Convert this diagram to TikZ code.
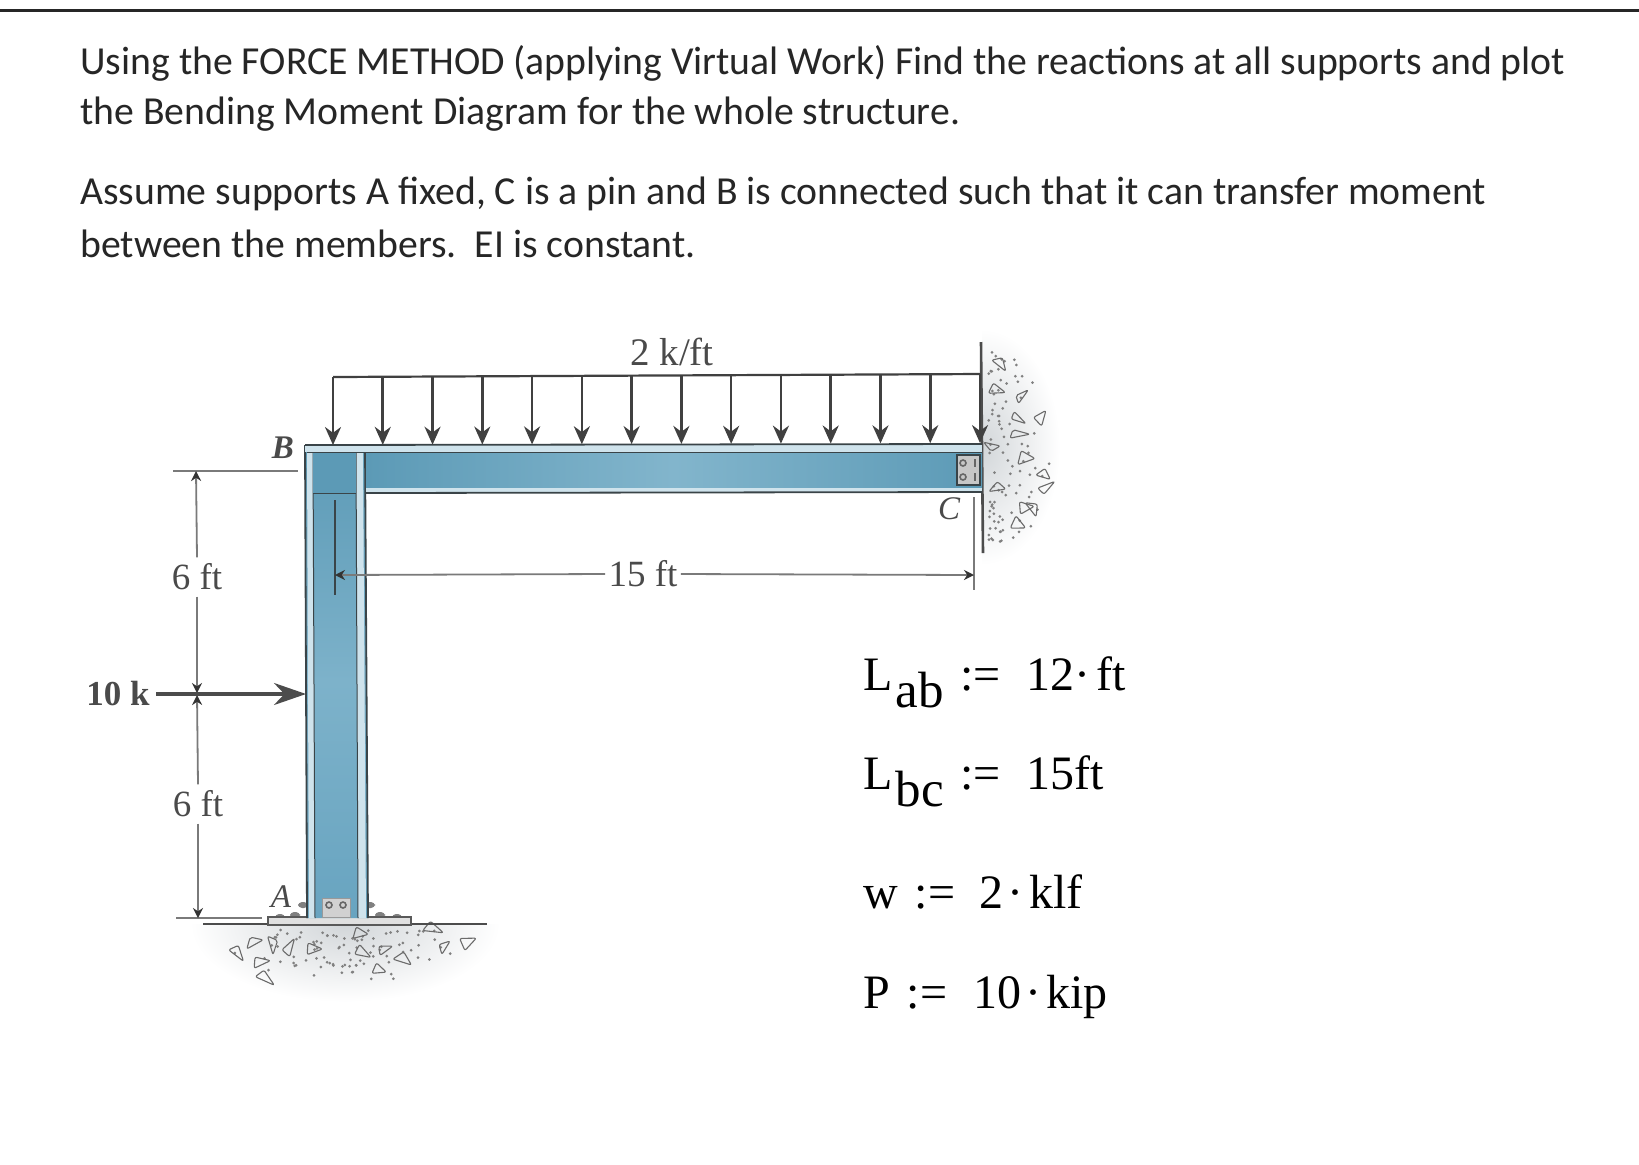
\documentclass[tikz,border=0pt]{standalone}
\usepackage{fontspec}
\setmainfont{Carlito}
\newfontfamily\figfont{Liberation Serif}
\usetikzlibrary{arrows.meta}

\definecolor{webdark}{HTML}{5C9AB6}
\definecolor{webmid}{HTML}{7DB2CA}
\definecolor{webbase}{HTML}{68A4C0}
\definecolor{weblight}{HTML}{82B5CC}
\definecolor{flange}{HTML}{CFE3EC}
\definecolor{steel}{HTML}{3A4448}
\definecolor{dimgrey}{HTML}{7A7A7A}
\definecolor{concrete}{HTML}{D2D6D9}
\definecolor{labelgrey}{HTML}{4A4A4A}

\tikzset{
	bodytext/.style={anchor=base west, inner sep=0pt, text=black!85, font=\fontsize{19.85}{24}\selectfont},
	formula/.style={anchor=base west, inner sep=0pt, font=\figfont\fontsize{24}{28}\selectfont},
	dimlabel/.style={inner sep=1.5pt, text=labelgrey, font=\figfont\fontsize{18.5}{22}\selectfont},
	pointlabel/.style={inner sep=0pt, text=labelgrey, font=\figfont\itshape\fontsize{16.5}{20}\selectfont},
	dimline/.style={draw=dimgrey, line width=0.9pt},
	dimarrow/.style={dimline, -{Stealth[length=5pt,width=5pt,color=black!80]}},
	loadline/.style={draw=black!75, line width=1.1pt},
	loadarrow/.style={draw=black!75, line width=1.3pt, -{Stealth[length=9pt,width=8pt]}},
	forcearrow/.style={draw=black!70, line width=1.6pt, -{Stealth[length=16pt,width=11pt]}},
	steelline/.style={draw=steel, line width=0.9pt},
	rockline/.style={draw=black!58, line width=0.55pt, line join=round}
}

\begin{document}
\begin{tikzpicture}[x=0.5pt, y=-0.5pt]

	\useasboundingbox (0, 0) rectangle (1639, 1164);
	\fill[white] (0, 0) rectangle (1639, 1164);

	\coordinate (ruleleft) at (0, 10);
	\coordinate (ruleright) at (1639, 10);
	\draw[line width=1.5pt, black!85] (ruleleft) -- (ruleright);

	% texte
	\node[bodytext] (lineone) at (80, 74) {Using the FORCE METHOD (applying Virtual Work) Find the reactions at all supports and plot};
	\node[bodytext] (linetwo) at (80, 124) {the Bending Moment Diagram for the whole structure.};
	\node[bodytext] (linethree) at (80, 204) {Assume supports A fixed, C is a pin and B is connected such that it can transfer moment};
	\node[bodytext] (linefour) at (80, 257) {between the members.\ \ EI is constant.};

	% beton
	\begin{scope}
		\clip (150, 924) rectangle (540, 1010);
		\shade[inner color=concrete, outer color=white] (345, 924) ellipse (155 and 78);
	\end{scope}
	\begin{scope}
		\clip (982, 330) rectangle (1070, 570);
		\shade[inner color=concrete, outer color=white] (982, 447) ellipse (78 and 118);
	\end{scope}

	\pgfmathsetseed{41}
	\foreach \i in {1, ..., 90} {
		\pgfmathsetmacro{\ang}{rnd*180}
		\pgfmathsetmacro{\rad}{0.12+0.8*rnd}
		\fill[black!50] ({345+135*\rad*cos(\ang)}, {930+58*\rad*sin(\ang)}) circle (1.5);
		\pgfmathsetmacro{\xpos}{988+62*rnd*rnd+4*rnd}
		\pgfmathsetmacro{\ypos}{447+95*(2*rnd-1)}
		\fill[black!50] (\xpos, \ypos) circle (1.5);
	}

	\foreach \x/\y/\r in {358/935/20, 433/928/-10, 443/947/70, 363/952/0, 383/950/40, 403/957/-20, 377/968/10, 253/942/30, 273/942/-60, 288/948/80, 313/948/15, 237/950/-30, 260/960/25, 265/977/-15, 465/943/50, 997/387/10, 1002/363/-40, 1020/397/60, 1018/417/0, 1018/433/20, 1038/417/80, 993/447/170, 1025/458/30, 1045/473/-20, 997/487/5, 1045/487/65, 1023/507/35, 1033/507/-50, 1017/523/15} {
		\draw[rockline, rounded corners=1, shift={(\x, \y)}, rotate=\r, scale=1.4] ({-7+3*rnd}, {1+3*rnd}) -- ({5+3*rnd}, {2+3*rnd}) -- ({-3+4*rnd}, {-6+3*rnd}) -- cycle;
	}

	% appuis
	\coordinate (wallup) at (981, 342);
	\coordinate (walldown) at (983, 553);
	\draw[line width=1.3pt, black!70] (wallup) -- (walldown);

	\coordinate (groundleft) at (203, 924);
	\coordinate (groundright) at (487, 924);
	\draw[line width=1.2pt, black!70] (groundleft) -- (groundright);

	\foreach \x/\y in {280/917, 295/915, 303/905, 370/905, 380/915, 397/917} {
		\fill[black!50, rounded corners=2] (\x-5, \y-3) rectangle (\x+5, \y+3);
	}
	\filldraw[fill=black!12, draw=black!65, line width=0.7pt] (268, 917) rectangle (411, 925);

	% poteau
	\shade[top color=webdark, bottom color=webbase, middle color=webmid] (305, 445) -- (365, 445) -- (368, 918) -- (307, 918) -- cycle;
	\fill[flange] (307, 452) -- (313, 452) -- (315, 918) -- (309, 918) -- cycle;
	\fill[flange] (356, 452) -- (363, 452) -- (366, 918) -- (358, 918) -- cycle;
	\draw[steelline] (305, 445) -- (307, 918);
	\draw[steelline] (365, 445) -- (368, 918);
	\draw[steelline, line width=0.5pt] (313, 452) -- (315, 918);
	\draw[steelline, line width=0.5pt] (356, 452) -- (358, 918);

	\filldraw[fill=black!18, draw=black!40, line width=0.4pt] (322, 898) rectangle (350, 917);
	\foreach \x in {329, 343} {
		\draw[black!60, line width=0.8pt] (\x, 905) circle (3);
	}

	% poutre
	\fill[flange] (305, 445) rectangle (982, 452);
	\shade[left color=webdark, right color=webdark, middle color=weblight] (366, 452) rectangle (982, 488);
	\fill[webdark] (313, 452) rectangle (356, 493);
	\fill[flange] (366, 488) rectangle (982, 492);
	\draw[steelline] (305, 445) -- (982, 444);
	\draw[steelline] (366, 493) -- (982, 492);
	\draw[steelline, line width=0.4pt] (313, 493) -- (356, 493);
	\draw[steelline, line width=0.5pt] (307, 452) -- (982, 452);

	\filldraw[fill=black!22, draw=steel, line width=0.6pt] (957, 455) rectangle (980, 485);
	\foreach \y in {463, 477} {
		\draw[black!60, line width=0.8pt] (963, \y) circle (3);
		\fill[black!60] (974, \y-4) rectangle (976, \y+4);
	}

	% charge repartie
	\foreach \i in {0, ..., 13} {
		\pgfmathsetmacro{\xload}{333 + \i * 49.77}
		\pgfmathsetmacro{\ytop}{377 - \i * 0.23}
		\pgfmathsetmacro{\ytip}{445 - \i * 0.15}
		\coordinate (loadtop\i) at (\xload, \ytop);
		\coordinate (loadtip\i) at (\xload, \ytip);
		\draw[loadarrow] (loadtop\i) -- (loadtip\i);
	}
	\draw[loadline] (loadtop0) -- (loadtop13);
	\node[dimlabel, font=\figfont\fontsize{19.5}{23}\selectfont] (loadlabel) at (672, 352) {2 k/ft};

	% cotes
	\coordinate (extBleft) at (173, 471);
	\coordinate (extBright) at (298, 471);
	\coordinate (extAleft) at (176, 918);
	\coordinate (extAright) at (262, 918);
	\draw[dimline] (extBleft) -- (extBright);
	\draw[dimline] (extAleft) -- (extAright);

	\node[dimlabel, inner sep=3pt] (sixup) at (197, 577) {6 ft};
	\node[dimlabel, inner sep=3pt] (sixdown) at (198, 804) {6 ft};
	\coordinate (dimtop) at (196, 471);
	\coordinate (dimbottom) at (198, 918);
	\coordinate (crossup) at (197, 693);
	\coordinate (crossdown) at (197, 695);
	\draw[dimarrow] (sixup.north) -- (dimtop);
	\draw[dimarrow] (sixup.south) -- (crossup);
	\draw[dimarrow] (sixdown.north) -- (crossdown);
	\draw[dimarrow] (sixdown.south) -- (dimbottom);

	\coordinate (spanleftup) at (335, 500);
	\coordinate (spanleftdown) at (335, 595);
	\coordinate (spanrightup) at (974, 497);
	\coordinate (spanrightdown) at (974, 590);
	\draw[steelline] (spanleftup) -- (spanleftdown);
	\draw[dimline] (spanrightup) -- (spanrightdown);

	\node[dimlabel] (spanlabel) at (643, 574) {15 ft};
	\coordinate (spanleft) at (335, 575);
	\coordinate (spanright) at (974, 575);
	\draw[dimarrow] (spanlabel.west) -- (spanleft);
	\draw[dimarrow] (spanlabel.east) -- (spanright);

	\node[dimlabel, inner sep=3pt, font=\figfont\bfseries\fontsize{17.5}{21}\selectfont] (forcelabel) at (118, 694) {10 k};
	\coordinate (forcetip) at (306, 694);
	\draw[forcearrow] (forcelabel.east) -- (forcetip);

	\node[pointlabel] (pointB) at (283, 448) {\textbf{B}};
	\node[pointlabel] (pointC) at (949, 509) {C};
	\node[pointlabel] (pointA) at (281, 897) {A};

	% donnees
	\node[formula] (lab) at (863, 690) {L\hspace{1.5pt}\raisebox{-8.5pt}{\fontsize{25.5}{28}\selectfont ab}\hspace{8.2pt}:=\hspace{12.7pt}12·\hspace{3pt}ft};
	\node[formula] (lbc) at (863, 789) {L\hspace{1.5pt}\raisebox{-8.5pt}{\fontsize{25.5}{28}\selectfont bc}\hspace{8.2pt}:=\hspace{12.7pt}15ft};
	\node[formula] (w) at (863, 908) {w\hspace{8.4pt}:=\hspace{12pt}2\hspace{2pt}·\hspace{3pt}klf};
	\node[formula] (p) at (863, 1008) {P\hspace{8.4pt}:=\hspace{13pt}10\hspace{2pt}·\hspace{2.5pt}kip};

\end{tikzpicture}
\end{document}
